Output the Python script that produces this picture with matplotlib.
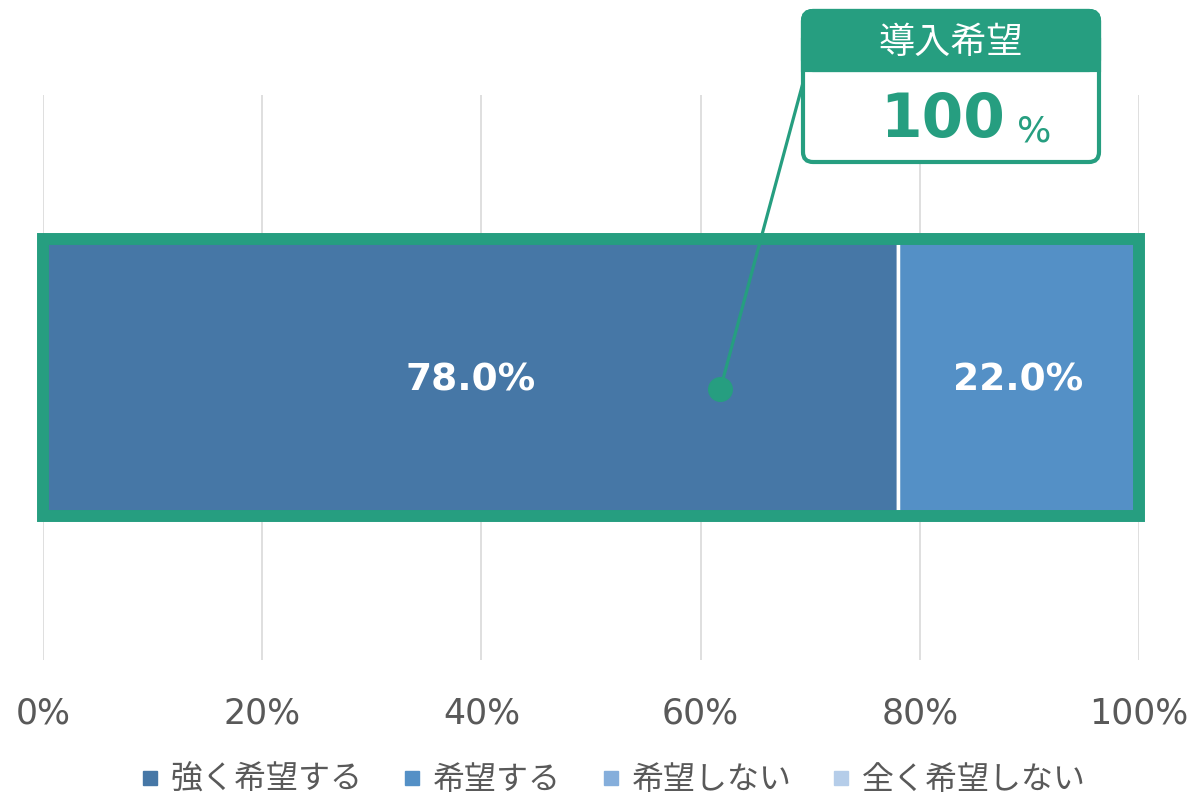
import numpy as np
import matplotlib.pyplot as plt
from matplotlib.patches import FancyBboxPatch, Rectangle
from matplotlib.lines import Line2D

plt.rcParams['font.family'] = ['DejaVu Sans', 'Noto Sans CJK JP']

categories = ['強く希望する', '希望する', '希望しない', '全く希望しない']
values = [78.0, 22.0, 0.0, 0.0]
colors = ['#4677A6', '#5490C6', '#85AEDB', '#B5CDE9']
ticks = [0, 20, 40, 60, 80, 100]
tick_labels = ['0%', '20%', '40%', '60%', '80%', '100%']
callout_title = '導入希望'
callout_value = '100'
green = '#269E80'

fig = plt.figure(figsize=(11.96, 7.99), dpi=100)
ax = fig.add_axes([0.036, 0.174, 0.9164, 0.707])

left = 0
for cat, v, c in zip(categories, values, colors):
    ax.barh(0, v, left=left, height=0.49, color=c, edgecolor='white', linewidth=2.5, zorder=2, label=cat)
    if v > 0:
        ax.text(left + v / 2, -0.005, f'{v:.1f}%', ha='center', va='center', color='white',
                fontsize=27, fontweight='bold', zorder=5)
    left += v

# green frame around the whole bar
ax.add_patch(Rectangle((0, -0.245), sum(values), 0.49, fill=False, edgecolor=green,
                       linewidth=8.6, zorder=4, clip_on=False))

ax.set_xlim(0, 100)
ax.set_ylim(-0.5, 0.5)
ax.set_xticks(ticks)
ax.set_xticklabels(tick_labels, fontsize=25, color='#595959')
ax.set_yticks([])
ax.tick_params(axis='x', length=0, pad=26)
ax.grid(axis='x', color='#D9D9D9', linewidth=1.2, zorder=0)
ax.set_axisbelow(True)
for s in ax.spines.values():
    s.set_visible(False)

# callout box (drawn in inches)
tr = fig.dpi_scale_trans
box = FancyBboxPatch((8.03, 6.37), 2.96, 1.51, boxstyle='round,pad=0,rounding_size=0.1',
                     facecolor='white', edgecolor=green, linewidth=3, transform=tr, zorder=10)
fig.add_artist(box)
head = FancyBboxPatch((8.03, 7.29), 2.96, 0.59, boxstyle='round,pad=0,rounding_size=0.1',
                      facecolor=green, edgecolor=green, linewidth=3, transform=tr, zorder=11)
fig.add_artist(head)
fig.add_artist(Rectangle((8.03, 7.29), 2.96, 0.3, facecolor=green, edgecolor=green,
                         linewidth=3, transform=tr, zorder=11))
fig.text(9.51, 7.56, callout_title, transform=tr, ha='center', va='center', color='white',
         fontsize=26, family=['Noto Sans CJK JP'], zorder=12)
fig.text(9.43, 6.78, callout_value, transform=tr, ha='center', va='center', color=green,
         fontsize=43, fontweight='bold', zorder=12)
fig.text(10.345, 6.68, '%', transform=tr, ha='center', va='center', color=green,
         fontsize=26, zorder=12)

# leader line from the dot to the box
ax.annotate('', xy=(61.8, -0.02), xytext=(8.04, 7.2), textcoords=tr,
            arrowprops=dict(arrowstyle='-', color=green, lw=2.3, shrinkA=0, shrinkB=0),
            zorder=9, annotation_clip=False)
ax.plot(61.8, -0.02, 'o', color=green, markersize=17, zorder=9, clip_on=False)

handles = [Line2D([], [], marker='s', linestyle='none', color=c, markersize=10) for c in colors]
fig.legend(handles, categories, loc='center', bbox_to_anchor=(0.512, 0.024), ncol=4,
           frameon=False, handlelength=0.7, handletextpad=0.3, columnspacing=1.2,
           prop={'family': ['Noto Sans CJK JP'], 'size': 23},
           labelcolor='#595959')

plt.savefig('out.png', dpi=100)
